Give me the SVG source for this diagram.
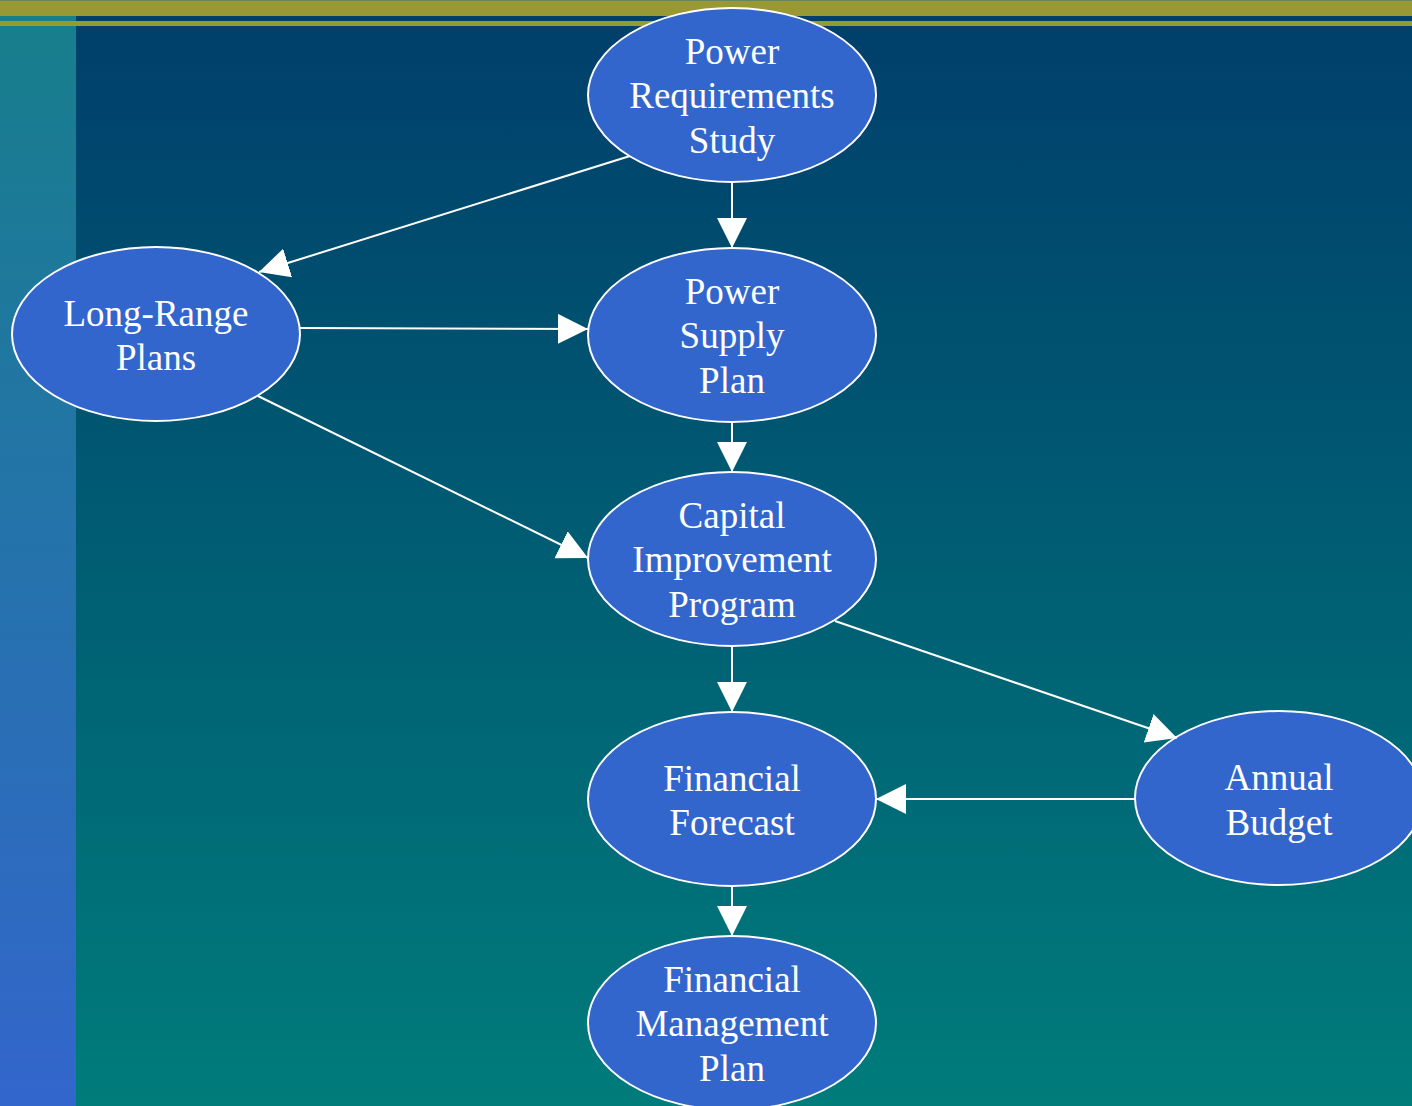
<svg xmlns="http://www.w3.org/2000/svg" width="1412" height="1106" viewBox="0 0 1412 1106">
<defs>
<linearGradient id="bg" x1="0" y1="0" x2="0" y2="1">
<stop offset="0" stop-color="#003E6B"/>
<stop offset="1" stop-color="#007C7B"/>
</linearGradient>
<linearGradient id="bar" x1="0" y1="0" x2="0" y2="1">
<stop offset="0" stop-color="#177F8B"/>
<stop offset="1" stop-color="#3366CC"/>
</linearGradient>
<marker id="ah" markerUnits="userSpaceOnUse" markerWidth="32" markerHeight="32" refX="30" refY="15" orient="auto">
<path d="M0,0 L30,15 L0,30 z" fill="#ffffff"/>
</marker>
<style>
.node ellipse { fill: #3366CC; stroke: #ffffff; stroke-width: 2; }
.node text { font-family: "Liberation Serif", "Times New Roman", serif; font-size: 37px; fill: #ffffff; text-anchor: middle; }
.edge { stroke: #ffffff; stroke-width: 2; fill: none; marker-end: url(#ah); }
</style>
</defs>
<rect x="0" y="0" width="1412" height="1106" fill="url(#bg)"/>
<rect x="0" y="0" width="76" height="1106" fill="url(#bar)"/>
<rect x="0" y="0" width="1412" height="16" fill="#999933"/>
<rect x="0" y="0" width="1412" height="1" fill="#66885C"/>
<rect x="0" y="21" width="1412" height="5" fill="#999933"/>

<g id="node-prs" class="node">
<ellipse cx="732" cy="95" rx="144" ry="87"/>
<text x="732" y="63.5">Power</text>
<text x="732" y="108">Requirements</text>
<text x="732" y="152.5">Study</text>
</g>
<g id="node-lrp" class="node">
<ellipse cx="156" cy="334" rx="144" ry="87"/>
<text x="156" y="325.5">Long-Range</text>
<text x="156" y="370">Plans</text>
</g>
<g id="node-psp" class="node">
<ellipse cx="732" cy="335" rx="144" ry="87"/>
<text x="732" y="303.5">Power</text>
<text x="732" y="348">Supply</text>
<text x="732" y="392.5">Plan</text>
</g>
<g id="node-cip" class="node">
<ellipse cx="732" cy="559" rx="144" ry="87"/>
<text x="732" y="527.5">Capital</text>
<text x="732" y="572">Improvement</text>
<text x="732" y="616.5">Program</text>
</g>
<g id="node-ff" class="node">
<ellipse cx="732" cy="799" rx="144" ry="87"/>
<text x="732" y="790.5">Financial</text>
<text x="732" y="835">Forecast</text>
</g>
<g id="node-ab" class="node">
<ellipse cx="1279" cy="798" rx="144" ry="87"/>
<text x="1279" y="790">Annual</text>
<text x="1279" y="834.5">Budget</text>
</g>
<g id="node-fmp" class="node">
<ellipse cx="732" cy="1023" rx="144" ry="87"/>
<text x="732" y="991.5">Financial</text>
<text x="732" y="1036">Management</text>
<text x="732" y="1080.5">Plan</text>
</g>

<g id="connectors">
<line class="edge" x1="630" y1="156" x2="259" y2="272"/>
<line class="edge" x1="732" y1="182" x2="732" y2="248"/>
<line class="edge" x1="300" y1="328" x2="588" y2="329"/>
<line class="edge" x1="258" y1="396" x2="588" y2="558"/>
<line class="edge" x1="732" y1="422" x2="732" y2="472"/>
<line class="edge" x1="732" y1="646" x2="732" y2="712"/>
<line class="edge" x1="835" y1="621" x2="1177" y2="738"/>
<line class="edge" x1="1135" y1="799" x2="876" y2="799"/>
<line class="edge" x1="732" y1="886" x2="732" y2="936"/>
</g>
</svg>
